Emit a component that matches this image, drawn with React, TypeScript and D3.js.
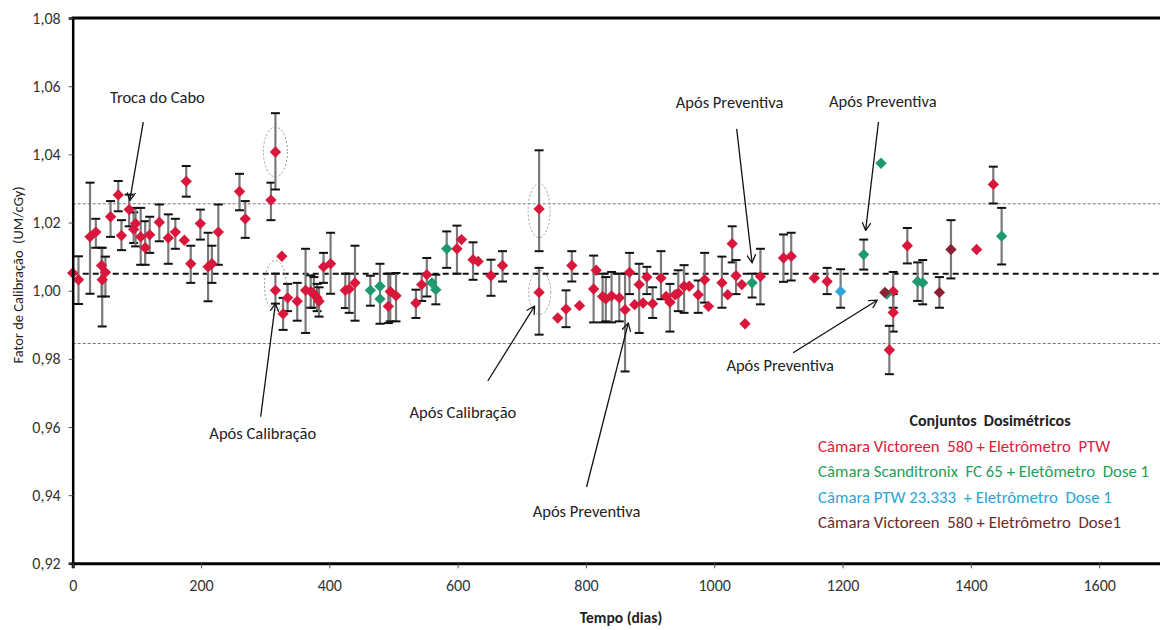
import React, { useEffect, useRef } from 'react';
import * as d3 from 'd3';

type Pt = [number, number, number | null, number | null]; // day, value, lower, upper

// Câmara Victoreen 580 + Eletrômetro PTW
const victoreenPtw: Pt[] = [
  [0, 1.0052, null, null], [9, 1.0032, 0.9961, 1.0101], [27, 1.0158, 0.9991, 1.0317],
  [36, 1.0172, 1.0126, 1.0211], [45, 1.0074, 0.9983, 1.0126], [46, 1.0032, 0.9895, 1.0126],
  [51, 1.0054, 0.9983, 1.01], [59, 1.0217, 1.0158, 1.0263], [71, 1.0281, 1.0233, 1.0322],
  [76, 1.0162, 1.0119, 1.0207], [88, 1.0238, 1.0189, 1.0282], [95, 1.018, 1.014, 1.023],
  [98, 1.0197, 1.013, 1.0243], [106, 1.0158, 1.0076, 1.0243], [113, 1.0126, 1.0076, 1.0204],
  [120, 1.0164, 1.0111, 1.0217], [135, 1.0201, 1.0145, 1.0253], [149, 1.0155, 1.0079, 1.0224],
  [160, 1.0172, 1.0123, 1.0211], [174, 1.0148, null, null], [177, 1.0321, 1.0276, 1.0366],
  [184, 1.0079, 1.0023, 1.0132], [199, 1.0197, 1.015, 1.0238], [211, 1.007, 0.9969, 1.017],
  [217, 1.0079, 1.0023, 1.0132], [227, 1.0172, 1.0076, 1.0253], [260, 1.0291, 1.0236, 1.0343],
  [269, 1.0211, 1.0155, 1.0263], [309, 1.0266, 1.0207, 1.0317], [316, 1.0407, 1.0297, 1.0521],
  [326, 1.0101, null, null], [316, 1.0001, 0.9962, 1.005], [335, 0.9979, 0.994, 1.002],
  [328, 0.9932, 0.9885, 0.9979], [350, 0.9969, 0.9912, 1.0023], [363, 1.0001, 0.9876, 1.0123],
  [371, 0.9998, 0.995, 1.0045], [376, 0.9991, 0.995, 1.004], [381, 0.9979, 0.994, 1.002],
  [384, 0.9969, 0.9924, 1.001], [391, 1.007, 1.0023, 1.0111], [402, 1.0079, 0.9991, 1.017],
  [425, 1.0001, 0.9949, 1.005], [431, 1.0005, 0.9935, 1.005], [440, 1.0023, 0.9912, 1.0132],
  [492, 0.9954, 0.9905, 1.005], [495, 0.9998, 0.991, 1.005], [504, 0.9985, 0.991, 1.0052],
  [535, 0.9964, 0.992, 1.0003], [544, 1.0018, 0.997, 1.005], [552, 1.0047, 0.9983, 1.0096],
  [599, 1.0123, 1.005, 1.0191], [606, 1.015, null, null], [624, 1.0091, 1.0032, 1.0142],
  [632, 1.0086, null, null], [652, 1.0044, 0.9985, 1.0091], [670, 1.0074, 1.0027, 1.0116],
  [727, 1.024, 1.0116, 1.0412], [727, 0.9995, 0.9871, 1.0067], [756, 0.992, null, null],
  [769, 0.9946, 0.9893, 1.0001], [778, 1.0074, 1.0027, 1.0116], [790, 0.9956, null, null],
  [812, 1.0005, 0.9907, 1.0103], [816, 1.006, null, null], [826, 0.9983, 0.9907, 1.005],
  [831, 0.9976, 0.991, 1.004], [840, 0.9985, 0.9907, 1.0055], [852, 0.9979, 0.991, 1.005],
  [861, 0.9944, 0.9763, 1.005], [868, 1.0054, 0.999, 1.0111], [876, 0.9959, null, null],
  [883, 1.0018, 0.9876, 1.0079], [889, 0.9964, null, null], [895, 1.004, 0.999, 1.007],
  [904, 0.9962, 0.992, 1.001], [917, 1.0037, 0.9975, 1.0116], [925, 0.9983, null, null],
  [931, 0.9966, 0.988, 1.002], [939, 0.9988, null, null], [944, 0.9993, 0.994, 1.006],
  [953, 1.0013, 0.9935, 1.0075], [961, 1.0013, null, null], [975, 0.9988, 0.9935, 1.003],
  [985, 1.0032, 0.9965, 1.0111], [991, 0.9954, null, null], [1012, 1.0023, 0.995, 1.01],
  [1021, 0.9988, null, null], [1028, 1.0138, 1.0083, 1.0189], [1034, 1.0044, 0.999, 1.009],
  [1043, 1.0018, null, null], [1048, 0.9903, null, null], [1072, 1.0042, 0.996, 1.0123],
  [1108, 1.0096, 1.0026, 1.0165], [1120, 1.0101, 1.003, 1.017], [1156, 1.0037, null, null],
  [1176, 1.0027, 0.999, 1.0067], [1279, 0.9998, 0.995, 1.0055], [1279, 0.9936, 0.988, 0.999],
  [1273, 0.9826, 0.9755, 0.9897], [1301, 1.0132, 1.008, 1.0184], [1409, 1.0121, null, null],
  [1435, 1.0312, 1.0256, 1.0364],
];

// Câmara Scanditronix FC 65 + Eletômetro Dose 1
const scanditronixDose1: Pt[] = [
  [464, 1.0001, 0.9956, 1.0044], [479, 1.0013, 0.9903, 1.0079], [479, 0.9976, null, null],
  [560, 1.0023, null, null], [566, 1.0003, 0.996, 1.0047], [583, 1.0123, 1.0067, 1.0174],
  [1059, 1.0023, 0.998, 1.005], [1233, 1.0106, 1.0062, 1.015], [1260, 1.0374, null, null],
  [1269, 0.999, null, null], [1317, 1.0027, 0.997, 1.0083], [1325, 1.0023, 0.996, 1.009],
  [1448, 1.016, 1.0077, 1.0243],
];

// Câmara PTW 23.333 + Eletrômetro Dose 1
const ptwDose1: Pt[] = [[1197, 0.9998, 0.995, 1.0063]];

// Câmara Victoreen 580 + Eletrômetro Dose1
const victoreenDose1: Pt[] = [
  [1266, 0.9995, null, null], [1351, 0.9995, 0.995, 1.004], [1369, 1.0121, 1.0036, 1.0207],
];

const meanValue = 1.005;
const upperLimit = 1.0255;
const lowerLimit = 0.9845;
const xTicks = [0, 200, 400, 600, 800, 1000, 1200, 1400, 1600];
const yTicks = [0.92, 0.94, 0.96, 0.98, 1.0, 1.02, 1.04, 1.06, 1.08];

const legendTitle = 'Conjuntos  Dosimétricos';
const legendItems = [
  { label: 'Câmara Victoreen  580 + Eletrômetro  PTW', color: '#e0203c' },
  { label: 'Câmara Scanditronix  FC 65 + Eletômetro  Dose 1', color: '#25a05a' },
  { label: 'Câmara PTW 23.333  + Eletrômetro  Dose 1', color: '#2ba3d4' },
  { label: 'Câmara Victoreen  580 + Eletrômetro  Dose1', color: '#6b2b2e' },
];

// annotations: text + arrow [fromDay, fromVal] -> [toDay, toVal]
const annotations = [
  { text: 'Troca do Cabo', tx: 58, ty: 1.055, from: [110, 1.0495], to: [89, 1.0265] },
  { text: 'Após Calibração', tx: 213, ty: 0.9565, from: [293, 0.9630], to: [316, 0.9962] },
  { text: 'Após Calibração', tx: 525, ty: 0.9625, from: [647, 0.9735], to: [720, 0.9955] },
  { text: 'Após Preventiva', tx: 717, ty: 0.9335, from: [801, 0.9424], to: [866, 0.9905] },
  { text: 'Após Preventiva', tx: 940, ty: 1.0535, from: [1035, 1.0475], to: [1059, 1.0082] },
  { text: 'Após Preventiva', tx: 1179, ty: 1.054, from: [1256, 1.0495], to: [1236, 1.0177] },
  { text: 'Após Preventiva', tx: 1019, ty: 0.9765, from: [1123, 0.9818], to: [1254, 0.9972] },
];

const circled = [
  { day: 316, val: 1.0407, rx: 12, ry: 25 },
  { day: 316, val: 1.0015, rx: 11, ry: 25 },
  { day: 727, val: 1.0235, rx: 11, ry: 27 },
  { day: 728, val: 0.9995, rx: 11, ry: 22 },
];

const FONT = "Carlito, 'Liberation Sans Narrow', 'Open Sans', sans-serif";

const App = () => {
  const svgRef = useRef<SVGSVGElement>(null);

  useEffect(() => {
    if (!svgRef.current) return;
    const svg = d3.select(svgRef.current);
    svg.selectAll('*').remove();

    const x = d3.scaleLinear().domain([0, 1700]).range([72.7, 1163.3]);
    const y = d3.scaleLinear().domain([0.92, 1.08]).range([563.3, 18.1]);

    const defs = svg.append('defs');
    defs.append('marker')
      .attr('id', 'arrow')
      .attr('viewBox', '0 0 10 10')
      .attr('refX', 9).attr('refY', 5)
      .attr('markerWidth', 9).attr('markerHeight', 9)
      .attr('markerUnits', 'userSpaceOnUse')
      .attr('orient', 'auto')
      .append('path')
      .attr('d', 'M0,0 L9,5 L0,10')
      .attr('fill', 'none')
      .attr('stroke', '#111')
      .attr('stroke-width', 1.4);

    // reference lines
    [upperLimit, lowerLimit].forEach(v => {
      svg.append('line')
        .attr('x1', x(0)).attr('x2', 1160)
        .attr('y1', y(v)).attr('y2', y(v))
        .attr('stroke', '#777').attr('stroke-width', 1)
        .attr('stroke-dasharray', '3,2');
    });
    svg.append('line')
      .attr('x1', x(0)).attr('x2', 1160)
      .attr('y1', y(meanValue)).attr('y2', y(meanValue))
      .attr('stroke', '#111').attr('stroke-width', 2)
      .attr('stroke-dasharray', '6,4');

    // dotted ellipses
    circled.forEach(c => {
      svg.append('ellipse')
        .attr('cx', x(c.day)).attr('cy', y(c.val))
        .attr('rx', c.rx).attr('ry', c.ry)
        .attr('fill', 'none').attr('stroke', '#9a9a9a')
        .attr('stroke-width', 1).attr('stroke-dasharray', '2,2');
    });

    const series = [
      { data: victoreenPtw, color: '#d9163b' },
      { data: scanditronixDose1, color: '#1f9a6e' },
      { data: ptwDose1, color: '#2ea6dc' },
      { data: victoreenDose1, color: '#8a2232' },
    ];

    // error bars
    series.forEach(s => {
      const withErr = s.data.filter(d => d[2] !== null && d[3] !== null);
      const g = svg.append('g');
      withErr.forEach(d => {
        const cx = x(d[0]);
        g.append('line')
          .attr('x1', cx).attr('x2', cx)
          .attr('y1', y(d[2] as number)).attr('y2', y(d[3] as number))
          .attr('stroke', '#7a7a7a').attr('stroke-width', 2.2);
        [d[2], d[3]].forEach(v => {
          g.append('line')
            .attr('x1', cx - 4.5).attr('x2', cx + 4.5)
            .attr('y1', y(v as number)).attr('y2', y(v as number))
            .attr('stroke', '#111').attr('stroke-width', 2);
        });
      });
    });

    // diamond markers
    const diamond = d3.symbol().type(d3.symbolDiamond2).size(82);
    series.forEach(s => {
      svg.append('g').selectAll('path')
        .data(s.data)
        .enter()
        .append('path')
        .attr('d', diamond)
        .attr('transform', d => `translate(${x(d[0])},${y(d[1])})`)
        .attr('fill', s.color);
    });

    // axes frame
    svg.append('line')
      .attr('x1', x(0) - 1).attr('x2', 1160)
      .attr('y1', y(1.08)).attr('y2', y(1.08))
      .attr('stroke', '#000').attr('stroke-width', 3);

    const yAxis = svg.append('g')
      .attr('transform', `translate(${x(0)},0)`)
      .call(d3.axisLeft(y).tickValues(yTicks).tickSize(4).tickPadding(8)
        .tickFormat(d => d3.format('.2f')(d as number).replace('.', ',')));
    yAxis.select('.domain').attr('stroke', '#000').attr('stroke-width', 2.5);
    yAxis.selectAll('.tick line').attr('stroke', '#555');
    yAxis.selectAll('text').attr('font-family', FONT).attr('font-size', 16).attr('fill', '#333');

    const xAxis = svg.append('g')
      .attr('transform', `translate(0,${y(0.92)})`)
      .call(d3.axisBottom(x).tickValues(xTicks).tickSize(5).tickPadding(11).tickFormat(d3.format('d')));
    xAxis.select('.domain').attr('stroke', '#000').attr('stroke-width', 3);
    xAxis.selectAll('.tick line').attr('stroke', '#555');
    xAxis.selectAll('text').attr('font-family', FONT).attr('font-size', 16).attr('fill', '#333');

    // axis titles
    svg.append('text')
      .attr('transform', `translate(23,275) rotate(-90)`)
      .attr('text-anchor', 'middle')
      .attr('font-family', FONT).attr('font-size', 14.5).attr('fill', '#222')
      .attr('xml:space', 'preserve')
      .text('Fator de Calibração  (UM/cGy)');
    svg.append('text')
      .attr('x', 621).attr('y', 623)
      .attr('text-anchor', 'middle')
      .attr('font-family', FONT).attr('font-size', 15.5).attr('font-weight', 'bold').attr('fill', '#222')
      .text('Tempo (dias)');

    // annotations
    annotations.forEach(a => {
      svg.append('text')
        .attr('x', x(a.tx)).attr('y', y(a.ty))
        .attr('font-family', FONT).attr('font-size', 16.5).attr('fill', '#222')
        .text(a.text);
      svg.append('line')
        .attr('x1', x(a.from[0])).attr('y1', y(a.from[1]))
        .attr('x2', x(a.to[0])).attr('y2', y(a.to[1]))
        .attr('stroke', '#111').attr('stroke-width', 1.3)
        .attr('marker-end', 'url(#arrow)');
    });

    // legend
    const lg = svg.append('g');
    lg.append('text')
      .attr('x', 990).attr('y', 426)
      .attr('text-anchor', 'middle')
      .attr('font-family', FONT).attr('font-size', 16).attr('font-weight', 'bold').attr('fill', '#222')
      .attr('xml:space', 'preserve')
      .text(legendTitle);
    legendItems.forEach((it, i) => {
      lg.append('text')
        .attr('x', 818).attr('y', 452 + i * 25.3)
        .attr('font-family', FONT).attr('font-size', 16.8).attr('fill', it.color)
        .attr('xml:space', 'preserve')
        .text(it.label);
    });
  }, []);

  return (
    <div style={{ position: 'absolute', left: 0, top: 0, width: 1160, height: 630, background: '#fff' }}>
      <svg ref={svgRef} width={1160} height={630} style={{ display: 'block' }} />
    </div>
  );
};

export default App;
